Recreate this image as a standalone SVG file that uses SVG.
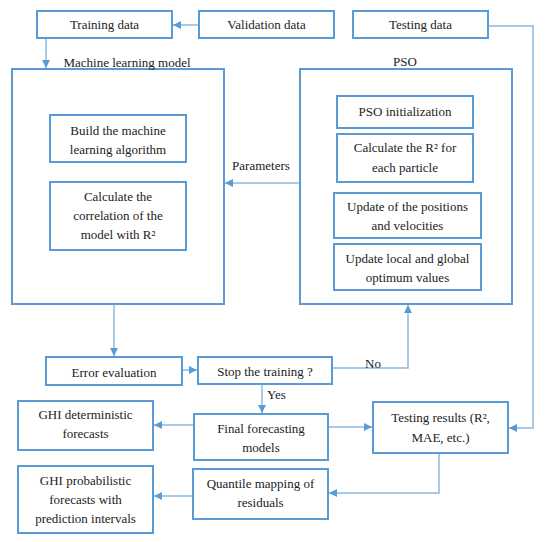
<svg xmlns="http://www.w3.org/2000/svg" width="550" height="542" viewBox="0 0 550 542" font-family="'Liberation Serif', 'DejaVu Serif', serif" font-size="13">
<defs>
<style>
.box{fill:#fff;stroke:#5B9BD5;stroke-width:2}
.con{fill:none;stroke:#8DB8E2;stroke-width:1.5}
text{fill:#222;text-anchor:middle}
</style>
<marker id="ah" viewBox="0 0 10 10" refX="10" refY="5" markerWidth="8" markerHeight="8" markerUnits="userSpaceOnUse" orient="auto">
<path d="M0,0 L10,5 L0,10 z" fill="#5B9BD5"/>
</marker>
</defs>
<rect width="550" height="542" fill="#fff"/>
<g id="connectors">
<path class="con" d="M199,25 H173" marker-end="url(#ah)"/>
<path class="con" d="M46,38 V68" marker-end="url(#ah)"/>
<path class="con" d="M488,26 H533 V428 H509" marker-end="url(#ah)"/>
<path class="con" d="M300,183 H225" marker-end="url(#ah)"/>
<path class="con" d="M114,304 V356" marker-end="url(#ah)"/>
<path class="con" d="M182,370 H197" marker-end="url(#ah)"/>
<path class="con" d="M332,368 H408 V305" marker-end="url(#ah)"/>
<path class="con" d="M262,384 V413" marker-end="url(#ah)"/>
<path class="con" d="M194,425 H154" marker-end="url(#ah)"/>
<path class="con" d="M328,427 H372" marker-end="url(#ah)"/>
<path class="con" d="M439,453 V493 H329" marker-end="url(#ah)"/>
<path class="con" d="M193,496 H154" marker-end="url(#ah)"/>
<text x="261" y="170">Parameters</text>
<text x="373" y="368">No</text>
<text x="267" y="399" style="text-anchor:start">Yes</text>
</g>
<g id="training">
<rect class="box" x="37" y="11" width="135" height="27"/>
<text x="104.5" y="29">Training data</text>
</g>
<g id="validation">
<rect class="box" x="199" y="11" width="135" height="27"/>
<text x="266.5" y="29">Validation data</text>
</g>
<g id="testing">
<rect class="box" x="353" y="11" width="135" height="27"/>
<text x="420.5" y="29">Testing data</text>
</g>
<g id="ml">
<rect class="box" x="12" y="69" width="212" height="235"/>
<text x="127" y="67">Machine learning model</text>
</g>
<g id="build">
<rect class="box" x="50" y="115" width="136" height="47"/>
<text x="118" y="135">Build the machine</text>
<text x="118" y="154">learning algorithm</text>
</g>
<g id="corr">
<rect class="box" x="50" y="182" width="136" height="68"/>
<text x="118" y="201">Calculate the</text>
<text x="118" y="220">correlation of the</text>
<text x="118" y="239">model with R²</text>
</g>
<g id="pso">
<rect class="box" x="300" y="69" width="212" height="235"/>
<text x="405" y="66">PSO</text>
</g>
<g id="psoinit">
<rect class="box" x="337" y="96" width="136" height="32"/>
<text x="405" y="116">PSO initialization</text>
</g>
<g id="calcr2">
<rect class="box" x="337" y="134" width="136" height="48"/>
<text x="405" y="152">Calculate the R² for</text>
<text x="405" y="172">each particle</text>
</g>
<g id="updpos">
<rect class="box" x="334" y="193" width="147" height="45"/>
<text x="407.5" y="211">Update of the positions</text>
<text x="407.5" y="230">and velocities</text>
</g>
<g id="updloc">
<rect class="box" x="334" y="244" width="147" height="46"/>
<text x="407.5" y="263">Update local and global</text>
<text x="407.5" y="282">optimum values</text>
</g>
<g id="error">
<rect class="box" x="46" y="357" width="136" height="28"/>
<text x="114" y="377">Error evaluation</text>
</g>
<g id="stop">
<rect class="box" x="198" y="357" width="134" height="27"/>
<text x="265" y="376">Stop the training ?</text>
</g>
<g id="ghidet">
<rect class="box" x="18" y="401" width="135" height="49"/>
<text x="85.5" y="419">GHI deterministic</text>
<text x="85.5" y="438">forecasts</text>
</g>
<g id="final">
<rect class="box" x="194" y="414" width="134" height="46"/>
<text x="261" y="433">Final forecasting</text>
<text x="261" y="452">models</text>
</g>
<g id="results">
<rect class="box" x="373" y="402" width="135" height="51"/>
<text x="440.5" y="422">Testing results (R²,</text>
<text x="440.5" y="442">MAE, etc.)</text>
</g>
<g id="quantile">
<rect class="box" x="193" y="469" width="135" height="50"/>
<text x="260.5" y="488">Quantile mapping of</text>
<text x="260.5" y="507">residuals</text>
</g>
<g id="ghiprob">
<rect class="box" x="18" y="466" width="135" height="67"/>
<text x="85.5" y="485">GHI probabilistic</text>
<text x="85.5" y="504">forecasts with</text>
<text x="85.5" y="523">prediction intervals</text>
</g>
</svg>
